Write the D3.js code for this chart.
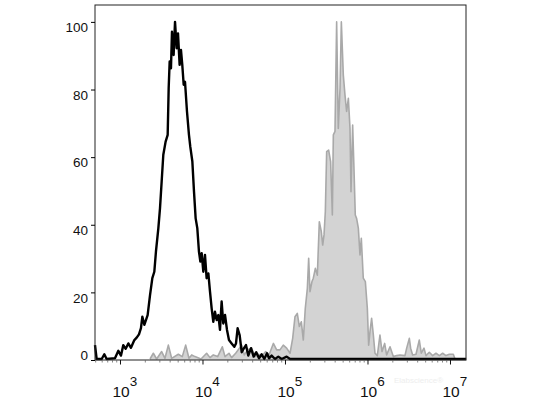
<!DOCTYPE html>
<html>
<head>
<meta charset="utf-8">
<script src="https://cdn.jsdelivr.net/npm/d3@7.9.0/dist/d3.min.js"></script>
<style>
  body { margin: 0; background: #fff; }
  svg { display: block; font-family: Arial, "Liberation Sans", sans-serif; }
</style>
</head>
<body>
<svg id="chart" width="534" height="400"></svg>
<script>
// unstained / isotype (black line), log10 channel and % of max
const blackLog = [2.691, 2.711, 2.772, 2.804, 2.832, 2.933, 2.974, 3.006, 3.034, 3.063, 3.095, 3.127,
  3.168, 3.196, 3.224, 3.248, 3.265, 3.289, 3.329, 3.358, 3.386, 3.410, 3.430, 3.459, 3.479, 3.499,
  3.519, 3.547, 3.572, 3.584, 3.596, 3.612, 3.624, 3.644, 3.661, 3.681, 3.697, 3.717, 3.733, 3.749,
  3.766, 3.782, 3.806, 3.830, 3.846, 3.871, 3.891, 3.911, 3.931, 3.951, 3.968, 3.984, 4.004, 4.024,
  4.044, 4.065, 4.085, 4.105, 4.125, 4.145, 4.166, 4.186, 4.206, 4.226, 4.246, 4.267, 4.291, 4.315,
  4.347, 4.380, 4.400, 4.420, 4.444, 4.469, 4.497, 4.521, 4.549, 4.582, 4.614, 4.646, 4.679, 4.711,
  4.743, 4.776, 4.800, 4.832, 4.873, 4.913, 4.954, 5.014, 5.055, 7.190];
const blackCount = [4.4, 0.3, 0.3, 1.7, 0.3, 0.5, 2.7, 1.3, 4.4, 3.3, 4.9, 3.6,
  5.9, 6.6, 7.6, 9.4, 12.8, 10.4, 13.3, 19.2, 24.2, 26.1, 32.1, 39, 44.9, 52.8,
  60.7, 64.6, 66.6, 80.4, 88.3, 86.3, 97.1, 90.2, 100, 92.2, 96.6, 87.3, 91.7, 87.3,
  81.4, 82.3, 73.5, 66.6, 63.1, 58.7, 49.8, 41.9, 39, 32.1, 29.1, 31.6, 26.1, 31.1,
  24.2, 25.6, 20.2, 15.3, 11.3, 14.3, 11.8, 13.3, 8.9, 17.3, 10.8, 13.3, 8.9, 5.9,
  4.9, 3.9, 4.9, 9.4, 7.4, 2.3, 3.5, 4.4, 1.3, 3.5, 1.0, 2.3, 0.5, 1.7,
  0.3, 2.0, 0.5, 1.3, 0.3, 1.0, 0.3, 1.0, 0.3, 0.3];

// stained sample (grey filled)
const grayLog = [3.358, 3.398, 3.438, 3.499, 3.539, 3.580, 3.620, 3.701, 3.749, 3.790, 3.830, 3.863,
  3.903, 3.976, 4.044, 4.085, 4.125, 4.178, 4.234, 4.267, 4.315, 4.347, 4.396, 4.469, 4.501, 4.541,
  4.590, 4.630, 4.671, 4.711, 4.760, 4.800, 4.853, 4.893, 4.933, 4.973, 5.014, 5.055, 5.087, 5.115,
  5.143, 5.168, 5.192, 5.216, 5.240, 5.265, 5.281, 5.297, 5.321, 5.337, 5.362, 5.386, 5.410, 5.434,
  5.451, 5.467, 5.483, 5.499, 5.523, 5.547, 5.568, 5.580, 5.600, 5.620, 5.640, 5.661, 5.677, 5.701,
  5.721, 5.741, 5.762, 5.782, 5.794, 5.814, 5.830, 5.846, 5.862, 5.883, 5.903, 5.919, 5.943, 5.968,
  5.992, 6.008, 6.024, 6.044, 6.065, 6.085, 6.113, 6.145, 6.170, 6.202, 6.226, 6.267, 6.307, 6.347,
  6.388, 6.448, 6.469, 6.501, 6.517, 6.541, 6.582, 6.622, 6.646, 6.679, 6.703, 6.743, 6.784, 6.824,
  6.865, 6.905, 6.945, 6.986, 7.034, 7.055];
const grayCount = [0.3, 2.0, 0.3, 2.5, 0.5, 4.4, 0.5, 1.7, 1.0, 4.4, 0.5, 1.5,
  1.0, 0.3, 2.0, 0.7, 1.5, 1.0, 3.9, 1.0, 2.0, 0.7, 2.0, 4.4, 1.5, 3.0,
  3.5, 1.0, 1.7, 1.0, 2.5, 1.5, 4.9, 3.0, 3.0, 4.4, 3.5, 2.0, 6.4, 12.8,
  13.8, 9.9, 11.3, 5.9, 15.3, 21.2, 30.1, 20.2, 23.2, 24.2, 27.1, 25.1, 40.9, 38,
  34, 37, 43.9, 61.6, 62.1, 58.7, 42.9, 66.6, 67.6, 100, 68.5, 80.4, 100, 84.3,
  78.4, 73.5, 77.4, 68.5, 49.8, 69.5, 56.7, 42.9, 41.9, 39, 31.1, 36, 24.2, 23.2,
  15.3, 4.4, 8.4, 12.3, 7.4, 2.0, 1.3, 7.4, 2.5, 4.9, 1.5, 3.9, 1.0, 1.3,
  1.5, 1.3, 3.5, 6.4, 3.5, 1.5, 1.7, 5.9, 2.0, 3.5, 1.3, 2.3, 1.3, 2.0,
  1.3, 2.0, 1.3, 1.7, 1.7, 0.3];

const yTicks = [0, 20, 40, 60, 80, 100];
const xDecades = [3, 4, 5, 6, 7];

const svg = d3.select('#chart');
const plotL = 95, plotR = 466, plotT = 5, plotB = 360;

const x = d3.scaleLog()
  .domain([Math.pow(10, 2.691), Math.pow(10, 7.188)])
  .range([plotL, plotR]);
const y = d3.scaleLinear().domain([0, 105]).range([plotB, plotT]);

const black = blackLog.map((l, i) => ({ v: Math.pow(10, l), c: blackCount[i] }));
const gray = grayLog.map((l, i) => ({ v: Math.pow(10, l), c: grayCount[i] }));

// grey filled histogram
svg.append('path')
  .datum(gray)
  .attr('d', d3.area().x(d => x(d.v)).y0(y(0)).y1(d => y(d.c)))
  .attr('fill', '#d3d3d3');
svg.append('path')
  .datum(gray)
  .attr('d', d3.line().x(d => x(d.v)).y(d => y(d.c)))
  .attr('fill', 'none')
  .attr('stroke', '#a9a9a9')
  .attr('stroke-width', 1.6)
  .attr('stroke-linejoin', 'round');

// black line histogram
svg.append('path')
  .datum(black)
  .attr('d', d3.line().x(d => x(d.v)).y(d => y(d.c)))
  .attr('fill', 'none')
  .attr('stroke', '#000')
  .attr('stroke-width', 2.4)
  .attr('stroke-linejoin', 'round');

// frame
svg.append('rect')
  .attr('x', plotL).attr('y', plotT)
  .attr('width', plotR - plotL).attr('height', plotB - plotT)
  .attr('fill', 'none')
  .attr('stroke', '#222')
  .attr('stroke-width', 1);

// y axis
const yAxis = svg.append('g')
  .attr('transform', `translate(${plotL},0)`)
  .call(d3.axisLeft(y).tickValues(yTicks).tickSize(4).tickPadding(3));
yAxis.select('.domain').remove();
yAxis.selectAll('text')
  .attr('font-size', 13.5)
  .attr('fill', '#111')
  .attr('dy', d => d === 0 ? '-0.05em' : '0.72em');

// x axis: minor ticks then decade labels
const minor = [];
xDecades.concat([2]).forEach(e => {
  for (let m = 2; m <= 9; m++) {
    const v = m * Math.pow(10, e);
    if (v > x.domain()[0] && v < x.domain()[1]) minor.push(v);
  }
});
svg.append('g').selectAll('line')
  .data(minor)
  .join('line')
  .attr('x1', d => x(d)).attr('x2', d => x(d))
  .attr('y1', plotB).attr('y2', plotB + 2.5)
  .attr('stroke', '#666').attr('stroke-width', 0.8);

const xAxis = svg.append('g');
xAxis.selectAll('line')
  .data(xDecades)
  .join('line')
  .attr('x1', d => x(Math.pow(10, d))).attr('x2', d => x(Math.pow(10, d)))
  .attr('y1', plotB).attr('y2', plotB + 4.5)
  .attr('stroke', '#111').attr('stroke-width', 1);

const lbl = xAxis.selectAll('text')
  .data(xDecades)
  .join('text')
  .attr('x', d => x(Math.pow(10, d)) - 8)
  .attr('y', 397)
  .attr('fill', '#111');
lbl.append('tspan').attr('font-size', 15.5).text('10');
lbl.append('tspan').attr('font-size', 13.5).attr('dy', -11).text(d => d);

// faint watermark
svg.append('text')
  .attr('x', 394).attr('y', 383)
  .attr('font-size', 8)
  .attr('fill', '#eeeeee')
  .text('Elabscience®');
</script>
</body>
</html>
